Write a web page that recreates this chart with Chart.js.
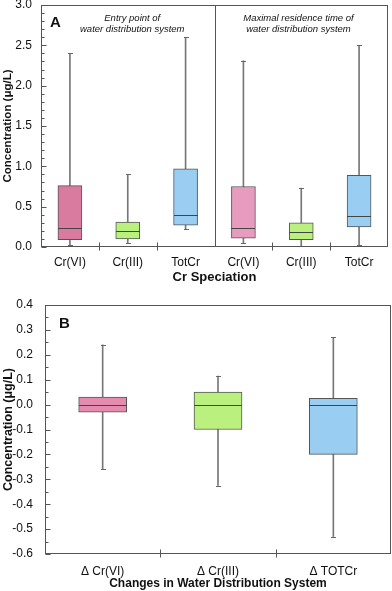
<!DOCTYPE html>
<html>
<head>
<meta charset="utf-8">
<script src="https://cdn.jsdelivr.net/npm/chart.js@4.4.1/dist/chart.umd.min.js"></script>
<style>
  body { margin: 0; background: #fff; }
  #wrapA { position: absolute; left: 0; top: 0; width: 392px; height: 290px; }
  #wrapB { position: absolute; left: 0; top: 290px; width: 392px; height: 301px; }
</style>
</head>
<body>
<div id="wrapA"><canvas id="chartA"></canvas></div>
<div id="wrapB"><canvas id="chartB"></canvas></div>
<script>
// Panel A: entry point (first three) and maximal residence time (last three)
const speciesA = ["Cr(VI)", "Cr(III)", "TotCr", "Cr(VI)", "Cr(III)", "TotCr"];
const minA    = [0.03, 0.05, 0.22, 0.05, 0.01, 0.02];
const q1A     = [0.09, 0.10, 0.27, 0.11, 0.09, 0.25];
const medianA = [0.23, 0.20, 0.40, 0.24, 0.19, 0.38];
const q3A     = [0.76, 0.31, 0.97, 0.75, 0.30, 0.89];
const maxA    = [2.40, 0.90, 2.60, 2.31, 0.73, 2.50];
const yLabelsA = ["0.0", "0.5", "1.0", "1.5", "2.0", "2.5", "3.0"];

// Panel B: changes in water distribution system
const changesB = ["\u0394 Cr(VI)", "\u0394 Cr(III)", "\u0394 TOTCr"];
const minB    = [-0.26, -0.325, -0.53];
const q1B     = [-0.03, -0.10, -0.20];
const medianB = [0.0, 0.0, 0.0];
const q3B     = [0.03, 0.05, 0.025];
const maxB    = [0.24, 0.115, 0.27];
const yLabelsB = ["-0.6", "-0.5", "-0.4", "-0.3", "-0.2", "-0.1", "0.0", "0.1", "0.2", "0.3", "0.4"];

Chart.defaults.font.family = "'Liberation Sans', Arial, sans-serif";
Chart.defaults.color = "#111";

const LINE = "#555";

// label text for a tick value, "" for minor ticks
function tickText(v, labels) {
    const tenths = v * 10;
    if (Math.abs(tenths - Math.round(tenths)) > 1e-6) return "";
    let s = v.toFixed(1);
    if (s === "-0.0") s = "0.0";
    return labels.includes(s) ? s : "";
}

function hline(ctx, x1, x2, y) {
    ctx.beginPath();
    ctx.moveTo(x1, y);
    ctx.lineTo(x2, y);
    ctx.stroke();
}

function vline(ctx, x, y1, y2) {
    ctx.beginPath();
    ctx.moveTo(x, y1);
    ctx.lineTo(x, y2);
    ctx.stroke();
}

// medians, whisker caps, frame, inner ticks and notes
const boxPlot = {
    id: "boxPlot",
    afterDatasetsDraw(chart, args, opts) {
        const { ctx, scales: { x, y } } = chart;
        ctx.save();
        ctx.lineWidth = 1;
        opts.median.forEach((m, i) => {
            const cx = Math.round(x.getPixelForValue(i));
            const half = opts.boxWidth / 2;
            ctx.strokeStyle = "#444";
            hline(ctx, cx - half, cx + half, Math.round(y.getPixelForValue(m)) + 0.5);
            ctx.strokeStyle = "#666";
            [opts.min[i], opts.max[i]].forEach(v => {
                hline(ctx, cx - 2, cx + 3, Math.round(y.getPixelForValue(v)) + 0.5);
            });
        });
        ctx.restore();
    },
    afterDraw(chart, args, opts) {
        const { ctx, chartArea: a, scales: { x, y } } = chart;
        ctx.save();
        ctx.strokeStyle = LINE;
        ctx.lineWidth = 1;
        const L = Math.round(a.left) + 0.5, R = Math.round(a.right) - 0.5;
        const T = Math.round(a.top) + 0.5, B = Math.round(a.bottom) - 0.5;
        ctx.strokeRect(L, T, R - L, B - T);

        // inner y ticks
        y.ticks.forEach(t => {
            const py = Math.round(y.getPixelForValue(t.value)) + 0.5;
            const len = t.label !== "" ? 5 : 3;
            hline(ctx, L, L + len, py);
        });

        // category separators
        for (let i = 1; i < x.ticks.length; i++) {
            const bx = Math.round((x.getPixelForValue(i - 1) + x.getPixelForValue(i)) / 2) + 0.5;
            if (opts.divider === i) vline(ctx, bx, T, B);
            else vline(ctx, bx, B - 4, B + 4);
        }

        ctx.fillStyle = "#111";
        ctx.textBaseline = "alphabetic";
        ctx.font = "bold 15px 'Liberation Sans', Arial, sans-serif";
        ctx.textAlign = "left";
        ctx.fillText(opts.letter, a.left + opts.letterPos[0], a.top + opts.letterPos[1]);

        ctx.font = "italic 9.5px 'Liberation Sans', Arial, sans-serif";
        ctx.textAlign = "center";
        (opts.notes || []).forEach(n => {
            n.lines.forEach((s, k) => {
                ctx.fillText(s, a.left + n.fx * (a.right - a.left), a.top + 16 + k * 11);
            });
        });
        ctx.restore();
    }
};

function makeChart(id, cfg) {
    return new Chart(document.getElementById(id), {
        type: "bar",
        data: {
            labels: cfg.labels,
            datasets: [
                {
                    label: "range",
                    data: cfg.labels.map((_, i) => [cfg.min[i], cfg.max[i]]),
                    backgroundColor: "#777",
                    barThickness: 1,
                    grouped: false,
                    order: 2
                },
                {
                    label: "IQR",
                    data: cfg.labels.map((_, i) => [cfg.q1[i], cfg.q3[i]]),
                    backgroundColor: cfg.colors,
                    borderColor: LINE,
                    borderWidth: 1,
                    borderSkipped: false,
                    barThickness: cfg.boxWidth,
                    grouped: false,
                    order: 1
                }
            ]
        },
        options: {
            responsive: true,
            maintainAspectRatio: false,
            animation: false,
            layout: { padding: cfg.padding },
            plugins: {
                legend: { display: false },
                tooltip: { enabled: false },
                boxPlot: {
                    median: cfg.median, min: cfg.min, max: cfg.max,
                    boxWidth: cfg.boxWidth, divider: cfg.divider,
                    letter: cfg.letter, letterPos: cfg.letterPos, notes: cfg.notes
                }
            },
            scales: {
                x: {
                    offset: true,
                    grid: { display: false, drawTicks: false },
                    border: { display: false },
                    ticks: { font: { size: 12 }, padding: cfg.xPad, maxRotation: 0, autoSkip: false },
                    title: {
                        display: true, text: cfg.xTitle,
                        font: { size: cfg.xTitleSize, weight: "bold" },
                        padding: { top: 0, bottom: cfg.xTitlePad }
                    },
                    afterFit: s => {
                        s.height = cfg.xHeight;
                        s.paddingLeft = 0;
                        s.paddingRight = 0;
                    }
                },
                y: {
                    min: cfg.yMin, max: cfg.yMax,
                    grid: { display: false, drawTicks: false },
                    border: { display: false },
                    ticks: {
                        stepSize: cfg.yStep, autoSkip: false, padding: cfg.yPad,
                        font: { size: 12 },
                        callback: v => tickText(v, cfg.yLabels)
                    },
                    title: {
                        display: true, text: "Concentration (\u03bcg/L)",
                        font: { size: cfg.yTitleSize, weight: "bold" },
                        padding: { top: 1, bottom: 0 }
                    },
                    afterFit: s => {
                        s.width = cfg.yWidth;
                        s.paddingTop = 0;
                        s.paddingBottom = 0;
                    }
                }
            }
        },
        plugins: [boxPlot]
    });
}

makeChart("chartA", {
    labels: speciesA, min: minA, q1: q1A, median: medianA, q3: q3A, max: maxA,
    colors: ["#d97a9f", "#b9f07e", "#9acdf2", "#e79cbf", "#b9f07e", "#9acdf2"],
    boxWidth: 24, divider: 3,
    padding: { left: 0, right: 4, top: 5, bottom: 0 },
    xTitle: "Cr Speciation", xTitleSize: 13, xTitlePad: 5, xPad: 8, xHeight: 43,
    yMin: 0, yMax: 3, yStep: 0.1, yLabels: yLabelsA, yPad: 9, yWidth: 41, yTitleSize: 11.5,
    letter: "A", letterPos: [9, 22],
    notes: [
        { fx: 0.263, lines: ["Entry point of", "water distribution system"] },
        { fx: 0.742, lines: ["Maximal residence time of", "water distribution system"] }
    ]
});

makeChart("chartB", {
    labels: changesB, min: minB, q1: q1B, median: medianB, q3: q3B, max: maxB,
    colors: ["#e58bb0", "#b9f07e", "#9acdf2"],
    boxWidth: 48, divider: null,
    padding: { left: 0, right: 1, top: 15, bottom: 0 },
    xTitle: "Changes in Water Distribution System", xTitleSize: 12, xTitlePad: 0, xPad: 10, xHeight: 37,
    yMin: -0.6, yMax: 0.4, yStep: 0.05, yLabels: yLabelsB, yPad: 12, yWidth: 45, yTitleSize: 12.5,
    letter: "B", letterPos: [14, 23],
    notes: []
});
</script>
</body>
</html>
